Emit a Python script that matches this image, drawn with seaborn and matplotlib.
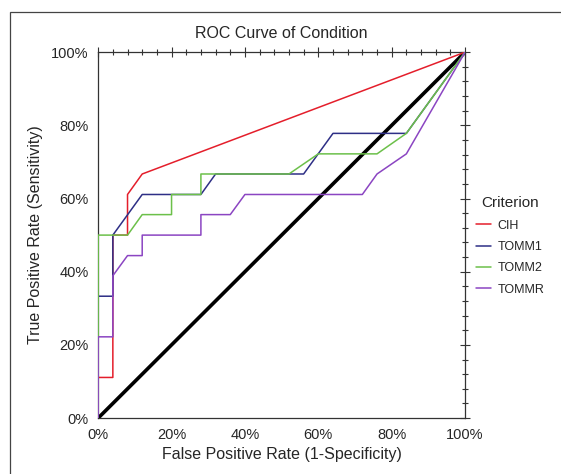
import pandas as pd
import matplotlib.pyplot as plt
import seaborn as sns
from matplotlib.ticker import MultipleLocator, FuncFormatter
from matplotlib.patches import Rectangle

# ROC points (FPR %, TPR %)
cih_x = [0, 0, 4, 4, 8, 8, 12, 100]
cih_y = [0, 11.1, 11.1, 50, 50, 61.1, 66.7, 100]
tomm1_x = [0, 0, 4, 4, 12, 28, 32, 56, 64, 84, 100]
tomm1_y = [0, 33.3, 33.3, 50, 61.1, 61.1, 66.7, 66.7, 77.8, 77.8, 100]
tomm2_x = [0, 0, 8, 12, 20, 20, 28, 28, 52, 60, 76, 84, 100]
tomm2_y = [0, 50, 50, 55.6, 55.6, 61.1, 61.1, 66.7, 66.7, 72.2, 72.2, 77.8, 100]
tommr_x = [0, 0, 4, 4, 8, 12, 12, 28, 28, 36, 40, 72, 76, 84, 100]
tommr_y = [0, 22.2, 22.2, 38.9, 44.4, 44.4, 50, 50, 55.6, 55.6, 61.1, 61.1, 66.7, 72.2, 100]

names = ["CIH", "TOMM1", "TOMM2", "TOMMR"]
colors = {"CIH": "#e41e2b", "TOMM1": "#2e2f86", "TOMM2": "#6cc04a", "TOMMR": "#8b45c2"}

frames = []
for name, xs, ys in zip(names, [cih_x, tomm1_x, tomm2_x, tommr_x], [cih_y, tomm1_y, tomm2_y, tommr_y]):
    frames.append(pd.DataFrame({"fpr": xs, "tpr": ys, "Criterion": name}))
df = pd.concat(frames, ignore_index=True)

sns.set_style("white")
plt.rcParams['font.family'] = ['Liberation Sans', 'DejaVu Sans']

fig = plt.figure(figsize=(5.61, 4.74), dpi=100)
ax = fig.add_axes([0.175, 0.118, 0.654, 0.772])

# reference diagonal
ax.plot([0, 100], [0, 100], color="black", lw=2.6, zorder=1)

sns.lineplot(data=df, x="fpr", y="tpr", hue="Criterion", palette=colors,
             sort=False, estimator=None, lw=1.1, ax=ax, zorder=3)

ax.set_xlim(0, 100)
ax.set_ylim(0, 100)
ax.xaxis.set_major_locator(MultipleLocator(20))
ax.yaxis.set_major_locator(MultipleLocator(20))
ax.xaxis.set_minor_locator(MultipleLocator(4))
ax.yaxis.set_minor_locator(MultipleLocator(4))
pct = FuncFormatter(lambda v, p: f"{v:.0f}%")
ax.xaxis.set_major_formatter(pct)
ax.yaxis.set_major_formatter(pct)
ax.tick_params(which="both", direction="inout", top=True, right=True,
               labelsize=10.5, color="#333333", width=0.8)
ax.tick_params(which="major", length=7)
ax.tick_params(which="minor", length=4)
for s in ax.spines.values():
    s.set_color("#333333")
    s.set_linewidth(0.9)

ax.set_title("ROC Curve of Condition", fontsize=11.5, pad=10)
ax.set_xlabel("False Positive Rate (1-Specificity)", fontsize=11.5, labelpad=4)
ax.set_ylabel("True Positive Rate (Sensitivity)", fontsize=11.5, labelpad=6)

leg = ax.legend(title="Criterion", loc="center left", bbox_to_anchor=(1.0, 0.47),
                frameon=False, fontsize=9, title_fontsize=11, handlelength=1.2,
                handletextpad=0.5, labelspacing=0.75)
for h in leg.get_lines():
    h.set_linewidth(1.1)

# outer frame around the figure
fig.patches.append(Rectangle((10 / 561, -0.1), 1.2, 1 - 12 / 474 + 0.1,
                             transform=fig.transFigure, fill=False,
                             edgecolor="#444444", lw=0.9))

fig.savefig("out.png", dpi=100)
